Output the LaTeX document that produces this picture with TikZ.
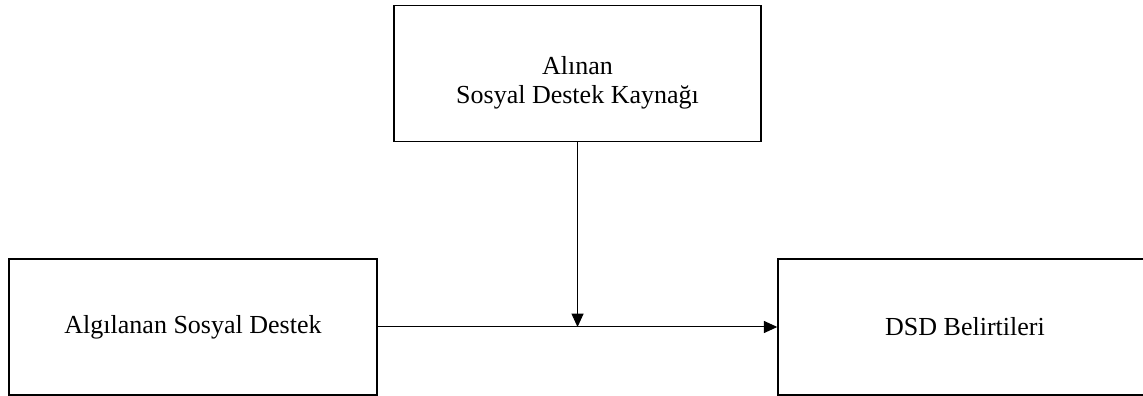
\documentclass[tikz,border=0pt]{standalone}
\usepackage{fontspec}
\setmainfont{Liberation Serif}
\usetikzlibrary{arrows.meta}

\begin{document}
\begin{tikzpicture}[>={Triangle[length=10pt, width=9pt]}, node distance=20mm, block/.style={rectangle, draw, line width=1.1pt, minimum width=276pt, minimum height=102pt, align=center, font=\fontsize{19.5pt}{21.75pt}\selectfont}, link/.style={->, line width=0.75pt}]

  \useasboundingbox (0,0) rectangle (857.25pt,297pt);

  \node[block] (algilanan) at (144.75pt,51.75pt) {Algılanan Sosyal Destek};
  \node[block, right of=algilanan, node distance=579pt, minimum width=280.5pt] (dsd) {DSD Belirtileri};
  \node[coordinate, right of=algilanan, node distance=288.4pt] (orta) {};
  % two-line box: a strut on the first line lowers both lines a little
  \node[block, above of=orta, node distance=190.1pt, minimum width=275.25pt] (kaynak) {\rule{0pt}{28pt}Alınan\\Sosyal Destek Kaynağı};

  \draw[link] (algilanan) -- (dsd);
  \draw[link] (kaynak) -- (kaynak |- algilanan.east);
\end{tikzpicture}
\end{document}
